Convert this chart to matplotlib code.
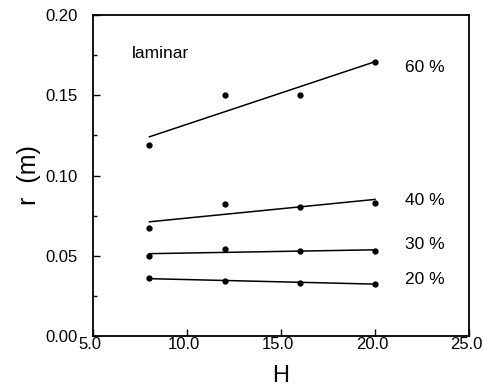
import numpy as np
import matplotlib
matplotlib.use("Agg")
import matplotlib.pyplot as plt
import matplotlib.transforms as mtransforms

plt.rcParams['font.family'] = ['Liberation Sans', 'DejaVu Sans']

H = [8, 12, 16, 20]
r60 = [0.119, 0.150, 0.150, 0.171]
r40 = [0.067, 0.082, 0.0805, 0.083]
r30 = [0.050, 0.054, 0.053, 0.053]
r20 = [0.036, 0.0343, 0.0332, 0.0326]
series = [("60 %", r60, 0.167), ("40 %", r40, 0.0847),
          ("30 %", r30, 0.0573), ("20 %", r20, 0.0349)]

fig = plt.figure(figsize=(4.84, 3.91), dpi=100)
ax = fig.add_axes([93/484, 1 - 336/391, (469-93)/484, (336-15)/391])

for lab, vals, ly in series:
    ax.plot(H, vals, 'o', color='black', markersize=3.5)
    p = np.polyfit(H, vals, 1)
    xs = np.array([H[0], H[-1]])
    ax.plot(xs, np.polyval(p, xs), '-', color='black', lw=1.1)
    ax.text(21.6, ly, lab, fontsize=12.5, va='center', ha='left')

ax.text(7.05, 0.176, "laminar", fontsize=12.5, va='center', ha='left')

ax.set_xlim(5, 25)
ax.set_ylim(0, 0.2)
ax.set_xticks([5, 10, 15, 20, 25])
ax.set_xticklabels(["5.0", "10.0", "15.0", "20.0", "25.0"])
ax.set_yticks([0, 0.05, 0.10, 0.15, 0.20])
ax.set_yticklabels(["0.00", "0.05", "0.10", "0.15", "0.20"])
ax.set_yticks([0.025, 0.075, 0.125, 0.175], minor=True)
ax.tick_params(axis='both', which='major', direction='in', length=5, width=1,
               labelsize=12, pad=3)
ax.tick_params(axis='y', which='major', pad=11)
ax.tick_params(axis='y', which='minor', direction='in', length=3, width=1)
ax.tick_params(axis='x', pad=1)
for s in ax.spines.values():
    s.set_linewidth(1.3)

offset = mtransforms.ScaledTranslation(-3/100, 0, fig.dpi_scale_trans)
for lbl in ax.get_xticklabels():
    lbl.set_transform(lbl.get_transform() + offset)

ax.set_ylabel("r  (m)", fontsize=18, labelpad=3)
ax.set_xlabel("H", fontsize=17, labelpad=9)

fig.savefig("out.png", dpi=100)
